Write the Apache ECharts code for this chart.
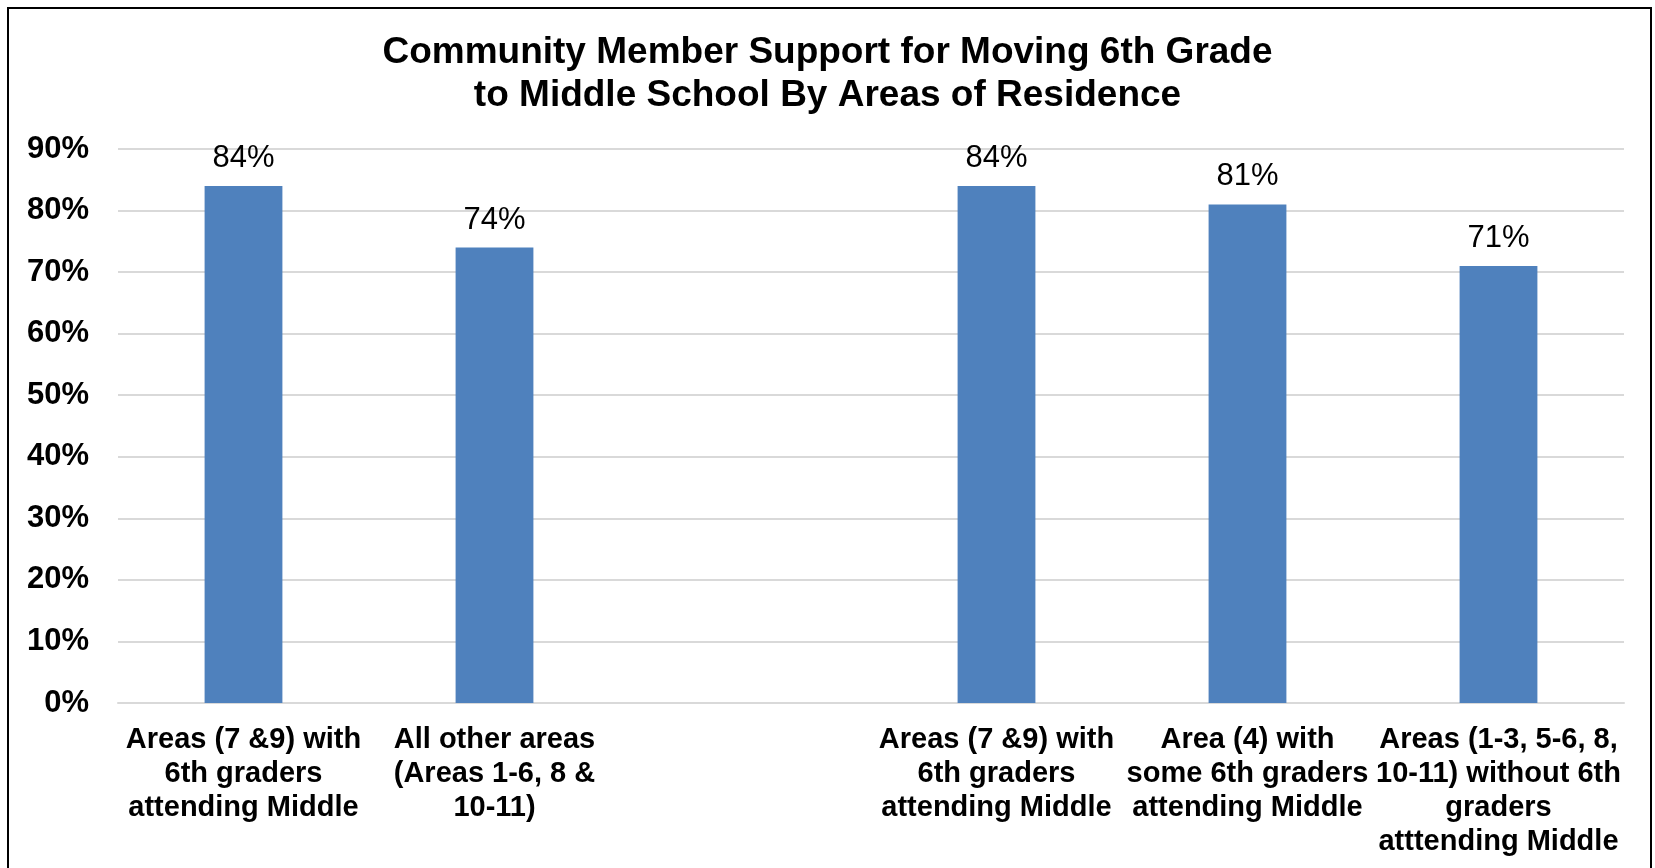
<!DOCTYPE html>
<html>
<head>
<meta charset="utf-8">
<script src="https://cdn.jsdelivr.net/npm/echarts@6/dist/echarts.min.js"></script>
<style>
html,body{margin:0;padding:0;background:#fff;}
#chart{width:1655px;height:868px;}
</style>
</head>
<body>
<div id="chart"></div>
<script>
const titleText = "Community Member Support for Moving 6th Grade\nto Middle School By Areas of Residence";
const categories = [
  "Areas (7 &9) with\n6th graders\nattending Middle",
  "All other areas\n(Areas 1-6, 8 &\n10-11)",
  "",
  "Areas (7 &9) with\n6th graders\nattending Middle",
  "Area (4) with\nsome 6th graders\nattending Middle",
  "Areas (1-3, 5-6, 8,\n10-11) without 6th\ngraders\natttending Middle"
];
const supportValues = [84, 74, null, 84, 81, 71];
const yTicks = { min: 0, max: 90, interval: 10 };

const FONT = "'Liberation Sans', Arial, sans-serif";
const chart = echarts.init(document.getElementById('chart'), null, { renderer: 'canvas' });
chart.setOption({
  backgroundColor: '#ffffff',
  animation: false,
  graphic: [{
    type: 'rect',
    shape: { x: 8, y: 8, width: 1643, height: 880 },
    style: { fill: 'none', stroke: '#000', lineWidth: 2 },
    silent: true
  }],
  title: {
    text: titleText,
    left: 'center',
    top: 26,
    textStyle: { fontFamily: FONT, fontSize: 37, fontWeight: 'bold', color: '#000', lineHeight: 43 }
  },
  grid: { left: 118, right: 31, top: 149, bottom: 165, containLabel: false },
  xAxis: {
    type: 'category',
    data: categories,
    axisLine: { show: true, lineStyle: { color: '#d9d9d9', width: 2 } },
    axisTick: { show: false },
    axisLabel: {
      interval: 0,
      margin: 20,
      fontFamily: FONT,
      fontSize: 29,
      fontWeight: 'bold',
      color: '#000',
      lineHeight: 34,
      align: 'center'
    }
  },
  yAxis: {
    type: 'value',
    min: yTicks.min,
    max: yTicks.max,
    interval: yTicks.interval,
    axisLine: { show: false },
    axisTick: { show: false },
    splitLine: { lineStyle: { color: '#d9d9d9', width: 2 } },
    axisLabel: {
      margin: 29,
      fontFamily: FONT,
      fontSize: 31,
      fontWeight: 'bold',
      color: '#000',
      padding: [4, 0, 0, 0],
      formatter: '{value}%'
    }
  },
  series: [{
    type: 'bar',
    data: supportValues,
    barWidth: '31%',
    itemStyle: { color: '#4f81bd' },
    label: {
      show: true,
      position: 'top',
      distance: 12,
      fontFamily: FONT,
      fontSize: 31,
      color: '#000',
      formatter: p => p.value == null ? '' : p.value + '%'
    }
  }]
});
</script>
</body>
</html>
